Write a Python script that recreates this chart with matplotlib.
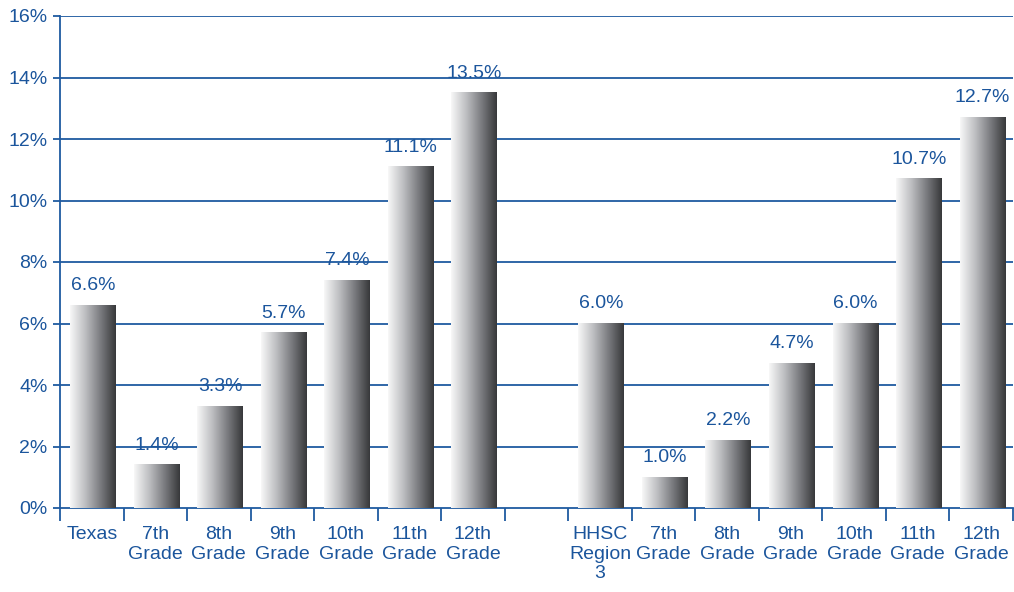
import numpy as np
import matplotlib
matplotlib.use('Agg')
import matplotlib.pyplot as plt
from matplotlib.colors import LinearSegmentedColormap

# data
texas_labels = ['Texas', '7th\nGrade', '8th\nGrade', '9th\nGrade', '10th\nGrade', '11th\nGrade', '12th\nGrade']
texas_vals = [6.6, 1.4, 3.3, 5.7, 7.4, 11.1, 13.5]
region_labels = ['HHSC\nRegion\n3', '7th\nGrade', '8th\nGrade', '9th\nGrade', '10th\nGrade', '11th\nGrade', '12th\nGrade']
region_vals = [6.0, 1.0, 2.2, 4.7, 6.0, 10.7, 12.7]
yticks = [0, 2, 4, 6, 8, 10, 12, 14, 16]

blue = '#1b559c'
grid_blue = '#1f5aa0'

# one empty slot between the two groups
labels = texas_labels + [''] + region_labels
vals = texas_vals + [None] + region_vals
pos = np.arange(len(labels))

fig = plt.figure(figsize=(10.14, 5.92), dpi=100)
ax = fig.add_axes([60 / 1014, 1 - 508 / 592, 953 / 1014, 492 / 592])

cmap = LinearSegmentedColormap.from_list('bar', ['#f8f8f8', '#bdbec1', '#7a7b7f', '#37383a'])
grad = np.linspace(0, 1, 256).reshape(1, -1)
bw = 0.72

for p, v in zip(pos, vals):
    if v is None:
        continue
    ax.imshow(grad, cmap=cmap, extent=(p - bw / 2 + 0.02, p + bw / 2 + 0.02, 0, v),
              aspect='auto', zorder=3, interpolation='bilinear')
    ax.annotate(f'{v:.1f}%', (p + 0.02, v), xytext=(0, 8), textcoords='offset points',
                ha='center', va='bottom', color=blue, fontsize=14,
                family=['Liberation Sans', 'DejaVu Sans'])

ax.set_xlim(-0.5, len(labels) - 0.5)
ax.set_ylim(0, 16)

# gridlines
for y in yticks[1:]:
    ax.axhline(y, color=grid_blue, lw=1.3, zorder=1)

ax.set_yticks(yticks)
ax.set_yticklabels([f'{y}%' for y in yticks], fontsize=14, color=blue,
                   family=['Liberation Sans', 'DejaVu Sans'])
ax.tick_params(axis='y', length=5, width=1.3, color=grid_blue, pad=4)

ax.set_xticks(pos)
ax.set_xticklabels(labels, fontsize=14, color=blue, linespacing=1.2,
                   family=['Liberation Sans Narrow', 'Liberation Sans', 'DejaVu Sans'])
ax.tick_params(axis='x', length=0, pad=13)
ax.set_xticks(np.arange(-0.5, len(labels) - 0.4, 1), minor=True)
ax.tick_params(axis='x', which='minor', length=9, width=1.3, color=grid_blue, direction='out')

for s in ['top', 'right']:
    ax.spines[s].set_visible(False)
for s in ['left', 'bottom']:
    ax.spines[s].set_color(grid_blue)
    ax.spines[s].set_linewidth(1.3)

fig.savefig('out.png', dpi=100)
